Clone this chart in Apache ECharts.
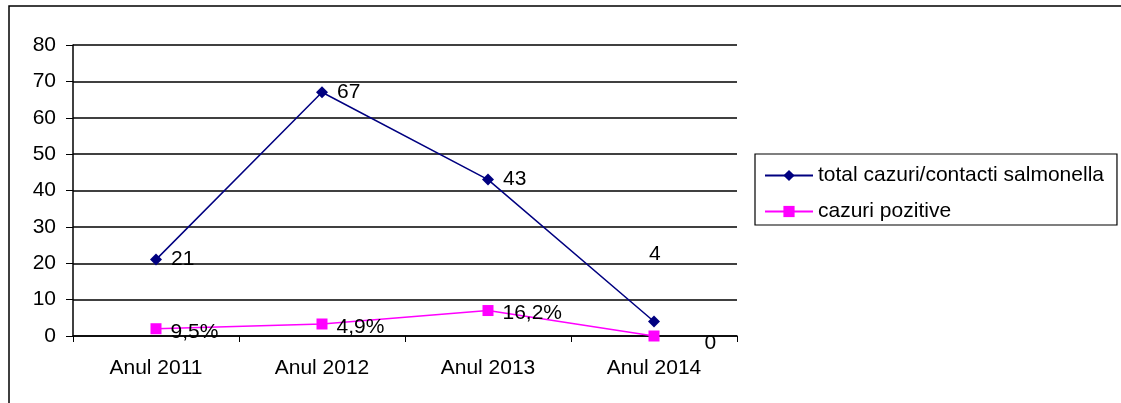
<!DOCTYPE html>
<html>
<head>
<meta charset="utf-8">
<script src="https://cdn.jsdelivr.net/npm/echarts@6/dist/echarts.min.js"></script>
<style>
  html, body { margin: 0; padding: 0; background: #fff; }
  #chart { width: 1121px; height: 403px; }
</style>
</head>
<body>
<div id="chart"></div>
<script>
// date grafic
const categories = ['Anul 2011', 'Anul 2012', 'Anul 2013', 'Anul 2014'];
const totalCazuri = [21, 67, 43, 4];
const cazuriPozitive = [2, 3.3, 7, 0];
const pozitiveLabels = ['9,5%', '4,9%', '16,2%', '0'];
const yTicks = [0, 10, 20, 30, 40, 50, 60, 70, 80];

const dom = document.getElementById('chart');
const myChart = echarts.init(dom);
const font = 'Liberation Sans, Arial, sans-serif';
const fs = 21;

const option = {
    backgroundColor: '#fff',
    animation: false,
    textStyle: { fontFamily: font },
    graphic: [{
        type: 'rect',
        shape: { x: 9, y: 6, width: 1130, height: 420 },
        style: { fill: 'none', stroke: '#000', lineWidth: 1.5 },
        silent: true
    }],
    legend: {
        orient: 'vertical',
        left: 755,
        top: 154,
        padding: [11, 13, 3, 9],
        itemGap: 15,
        itemWidth: 48,
        itemHeight: 14,
        borderColor: '#000',
        borderWidth: 1.2,
        textStyle: { color: '#000', fontSize: fs, fontFamily: font },
        data: ['total cazuri/contacti salmonella', 'cazuri pozitive']
    },
    grid: { left: 73, right: 384, top: 45, bottom: 67 },
    xAxis: {
        type: 'category',
        data: categories,
        boundaryGap: true,
        axisLine: { lineStyle: { color: '#000', width: 1.5 } },
        axisTick: { show: true, length: 6, lineStyle: { color: '#000' } },
        axisLabel: { color: '#000', fontSize: fs, fontFamily: font, margin: 22 }
    },
    yAxis: {
        type: 'value',
        min: yTicks[0],
        max: yTicks[yTicks.length - 1],
        interval: 10,
        axisLine: { show: true, lineStyle: { color: '#000', width: 1.5 } },
        axisTick: { show: true, length: 7, lineStyle: { color: '#000' } },
        axisLabel: { color: '#000', fontSize: fs, fontFamily: font, margin: 17 },
        splitLine: { show: true, lineStyle: { color: '#000', width: 1.5 } }
    },
    series: [
        {
            name: 'total cazuri/contacti salmonella',
            type: 'line',
            data: totalCazuri,
            symbol: 'diamond',
            symbolSize: 12,
            itemStyle: { color: '#000080' },
            lineStyle: { color: '#000080', width: 1.5 },
            label: {
                show: true,
                position: 'right',
                distance: 9,
                color: '#000',
                fontSize: fs,
                fontFamily: font
            },
            labelLayout: function (params) {
                // ultima eticheta e mutata mai sus
                if (params.dataIndex === 3) {
                    return { x: params.rect.x + 1, y: params.rect.y - 72, align: 'left' };
                }
                return {};
            }
        },
        {
            name: 'cazuri pozitive',
            type: 'line',
            data: cazuriPozitive,
            symbol: 'rect',
            symbolSize: 11,
            itemStyle: { color: '#ff00ff' },
            lineStyle: { color: '#ff00ff', width: 1.5 },
            label: {
                show: true,
                position: 'right',
                distance: 9,
                color: '#000',
                fontSize: fs,
                fontFamily: font,
                formatter: function (p) { return pozitiveLabels[p.dataIndex]; }
            },
            labelLayout: function (params) {
                if (params.dataIndex === 3) {
                    return { dx: 36, dy: 7 };
                }
                return { dy: 3 };
            }
        }
    ]
};

myChart.setOption(option);
window.addEventListener('resize', function () {
    myChart.resize();
});
</script>
</body>
</html>
